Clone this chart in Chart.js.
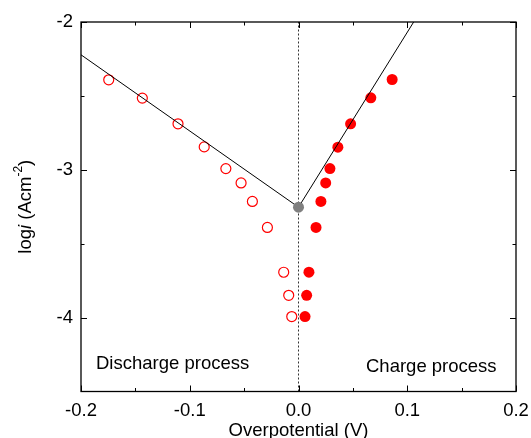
<!DOCTYPE html>
<html>
<head>
<meta charset="utf-8">
<script src="https://cdn.jsdelivr.net/npm/chart.js@4.4.0/dist/chart.umd.min.js"></script>
<style>
html,body{margin:0;padding:0;background:#fff;}
#wrap{width:531px;height:438px;}
</style>
</head>
<body>
<div id="wrap"><canvas id="c" width="531" height="438"></canvas></div>
<script>
// Discharge (open circles)
const dischargeX = [-0.1745, -0.1436, -0.1108, -0.0867, -0.0668, -0.0528, -0.0424, -0.0286, -0.0136, -0.0090, -0.0062];
const dischargeY = [-2.391, -2.515, -2.689, -2.845, -2.992, -3.089, -3.214, -3.390, -3.693, -3.849, -3.993];
// Charge (filled circles)
const chargeX = [0.0861, 0.0665, 0.0479, 0.0362, 0.0289, 0.0250, 0.0206, 0.0161, 0.0096, 0.0075, 0.0060];
const chargeY = [-2.389, -2.513, -2.689, -2.847, -2.992, -3.089, -3.214, -3.390, -3.693, -3.849, -3.993];
// Exchange point (gray)
const exchangeX = [0.0];
const exchangeY = [-3.253];
// Tafel fit lines
const dischargeFitX = [-0.2, 0.0];
const dischargeFitY = [-2.222, -3.253];
const chargeFitX = [0.0, 0.1059];
const chargeFitY = [-3.253, -2.0];
// Zero line
const zeroLineX = [0, 0];
const zeroLineY = [-4.5, -2];
// Axis ticks
const xTicks = [-0.2, -0.1, 0.0, 0.1, 0.2];
const xMinorTicks = [-0.15, -0.05, 0.05, 0.15];
const yTicks = [-2, -3, -4];
const yMinorTicks = [-2.5, -3.5];
const annotations = ["Discharge process", "Charge process"];

const pts = (xs, ys) => xs.map((x, i) => ({x: x, y: ys[i]}));
const FONT = '"Liberation Sans", Arial, sans-serif';
const FS = 18.5;

const framePlugin = {
  id: 'frame',
  afterDatasetsDraw(chart) {
    const {ctx, chartArea: a, scales: {x, y}} = chart;
    ctx.save();
    ctx.strokeStyle = '#000';
    ctx.lineWidth = 1.3;
    ctx.strokeRect(a.left, a.top, a.right - a.left, a.bottom - a.top);
    ctx.lineWidth = 1;
    ctx.beginPath();
    const tx = (v, len) => {
      const p = Math.round(x.getPixelForValue(v)) + 0.5;
      ctx.moveTo(p, a.bottom); ctx.lineTo(p, a.bottom - len);
      ctx.moveTo(p, a.top); ctx.lineTo(p, a.top + len);
    };
    const ty = (v, len) => {
      const p = Math.round(y.getPixelForValue(v)) + 0.5;
      ctx.moveTo(a.left, p); ctx.lineTo(a.left + len, p);
      ctx.moveTo(a.right, p); ctx.lineTo(a.right - len, p);
    };
    xTicks.forEach(v => tx(v, 6));
    xMinorTicks.forEach(v => tx(v, 3.5));
    yTicks.forEach(v => ty(v, 6));
    yMinorTicks.forEach(v => ty(v, 3.5));
    ctx.stroke();

    // annotations
    ctx.fillStyle = '#000';
    ctx.font = FS + 'px ' + FONT;
    ctx.textBaseline = 'middle';
    ctx.textAlign = 'left';
    ctx.fillText(annotations[0], 96, 364);
    ctx.fillText(annotations[1], 366, 367);

    // x title
    ctx.textAlign = 'center';
    ctx.fillText('Overpotential (V)', (a.left + a.right) / 2, 431);

    // y title with italic i and superscript
    ctx.translate(26, (a.top + a.bottom) / 2);
    ctx.rotate(-Math.PI / 2);
    const parts = [
      {t: 'log', f: FS + 'px ' + FONT, dy: 0},
      {t: 'i', f: 'italic ' + FS + 'px ' + FONT, dy: 0},
      {t: ' (Acm', f: FS + 'px ' + FONT, dy: 0},
      {t: '-2', f: '12px ' + FONT, dy: -7},
      {t: ')', f: FS + 'px ' + FONT, dy: 0}
    ];
    let total = 0;
    parts.forEach(p => { ctx.font = p.f; p.w = ctx.measureText(p.t).width; total += p.w; });
    let cx = -total / 2;
    ctx.textAlign = 'left';
    parts.forEach(p => { ctx.font = p.f; ctx.fillText(p.t, cx, p.dy); cx += p.w; });
    ctx.restore();
  }
};

new Chart(document.getElementById('c'), {
  type: 'scatter',
  data: {
    datasets: [
      {label: 'exchange', data: pts(exchangeX, exchangeY), pointRadius: 5.5, backgroundColor: '#808080', borderColor: '#808080', pointBorderWidth: 0, order: 0},
      {label: 'dischargeFit', type: 'line', data: pts(dischargeFitX, dischargeFitY), borderColor: '#000', borderWidth: 1, pointRadius: 0, fill: false, order: 1},
      {label: 'chargeFit', type: 'line', data: pts(chargeFitX, chargeFitY), borderColor: '#000', borderWidth: 1, pointRadius: 0, fill: false, order: 1},
      {label: 'zero', type: 'line', data: pts(zeroLineX, zeroLineY), borderColor: '#333', borderWidth: 1, borderDash: [2, 2], pointRadius: 0, fill: false, order: 3},
      {label: 'discharge', data: pts(dischargeX, dischargeY), pointRadius: 5, pointBorderWidth: 1.2, borderColor: '#ff0000', backgroundColor: 'rgba(0,0,0,0)', order: 2},
      {label: 'charge', data: pts(chargeX, chargeY), pointRadius: 5.5, pointBorderWidth: 0, borderColor: '#ff0000', backgroundColor: '#ff0000', order: 2}
    ]
  },
  options: {
    responsive: false,
    animation: false,
    events: [],
    layout: {padding: {top: 22, right: 15, left: 0, bottom: 0}},
    plugins: {legend: {display: false}, tooltip: {enabled: false}},
    scales: {
      x: {
        type: 'linear', min: -0.2, max: 0.2,
        afterBuildTicks: s => { s.ticks = xTicks.map(v => ({value: v})); },
        afterFit: s => { s.height = 46.5; s.paddingLeft = 0; s.paddingRight = 0; },
        grid: {display: false, drawTicks: false},
        border: {display: false},
        ticks: {padding: 8, color: '#000', font: {family: FONT, size: FS}, callback: v => v.toFixed(1)}
      },
      y: {
        type: 'linear', min: -4.5, max: -2,
        afterBuildTicks: s => { s.ticks = yTicks.map(v => ({value: v})); },
        afterFit: s => { s.width = 81; s.paddingTop = 0; s.paddingBottom = 0; },
        grid: {display: false, drawTicks: false},
        border: {display: false},
        ticks: {padding: 8, color: '#000', font: {family: FONT, size: FS}, callback: v => String(v)}
      }
    }
  },
  plugins: [framePlugin]
});
</script>
</body>
</html>
